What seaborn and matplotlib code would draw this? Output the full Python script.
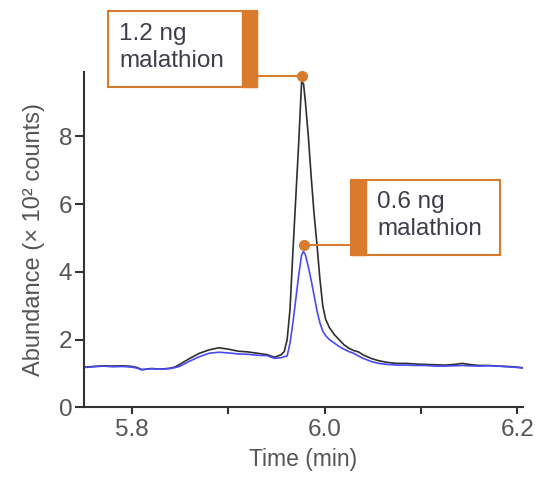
import numpy as np
import pandas as pd
import matplotlib
matplotlib.use("Agg")
import matplotlib.pyplot as plt
import seaborn as sns
from matplotlib.patches import Rectangle

# ---------------- data ----------------
time_min = [5.75, 5.76, 5.77, 5.78, 5.79, 5.80, 5.805, 5.81, 5.815, 5.82, 5.83, 5.84,
            5.845, 5.85, 5.86, 5.87, 5.88, 5.89, 5.90, 5.91, 5.92, 5.93, 5.94, 5.948,
            5.955, 5.958, 5.961, 5.964, 5.967, 5.970, 5.973, 5.976, 5.978, 5.980, 5.983,
            5.986, 5.989, 5.992, 5.995, 5.998, 6.001, 6.005, 6.010, 6.015, 6.020, 6.025,
            6.030, 6.035, 6.040, 6.048, 6.056, 6.065, 6.075, 6.085, 6.095, 6.105, 6.115,
            6.125, 6.135, 6.143, 6.150, 6.160, 6.170, 6.180, 6.190, 6.200, 6.207]

abund_12ng = [1.19, 1.21, 1.23, 1.22, 1.23, 1.21, 1.18, 1.12, 1.13, 1.15, 1.13, 1.16,
              1.20, 1.28, 1.45, 1.60, 1.70, 1.76, 1.72, 1.66, 1.64, 1.60, 1.56, 1.48,
              1.56, 1.65, 2.00, 2.90, 4.60, 6.20, 7.80, 9.60, 9.55, 9.00, 8.00,
              6.80, 5.70, 4.80, 3.80, 3.00, 2.60, 2.35, 2.15, 2.00, 1.85, 1.75,
              1.68, 1.64, 1.55, 1.45, 1.38, 1.33, 1.30, 1.30, 1.28, 1.27, 1.26,
              1.25, 1.27, 1.30, 1.27, 1.24, 1.24, 1.22, 1.21, 1.19, 1.17]

abund_06ng = [1.18, 1.20, 1.22, 1.20, 1.21, 1.19, 1.16, 1.11, 1.13, 1.14, 1.13, 1.15,
              1.18, 1.22, 1.37, 1.50, 1.60, 1.63, 1.61, 1.58, 1.57, 1.54, 1.53, 1.45,
              1.47, 1.50, 1.52, 1.90, 2.50, 3.20, 3.90, 4.50, 4.60, 4.50, 4.15,
              3.75, 3.30, 2.85, 2.50, 2.25, 2.12, 2.00, 1.90, 1.80, 1.72, 1.65,
              1.60, 1.52, 1.45, 1.36, 1.30, 1.27, 1.25, 1.25, 1.24, 1.24, 1.22,
              1.22, 1.23, 1.24, 1.23, 1.22, 1.23, 1.22, 1.20, 1.18, 1.16]

series_labels = ["1.2 ng\nmalathion", "0.6 ng\nmalathion"]
x_ticks = [5.8, 5.9, 6.0, 6.1, 6.2]
x_ticklabels = ["5.8", "", "6.0", "", "6.2"]
y_ticks = [0, 2, 4, 6, 8]

df = pd.DataFrame({
    "time": time_min * 2,
    "abund": abund_12ng + abund_06ng,
    "series": ["1.2"] * len(time_min) + ["0.6"] * len(time_min),
})

# ---------------- style ----------------
sns.set_style("ticks")
plt.rcParams["font.family"] = ["Liberation Sans", "DejaVu Sans"]

ORANGE = "#d97b2c"
TXT = "#3d3d4d"
AX = "#333333"
LBL = "#555555"

fig = plt.figure(figsize=(5.37, 4.79), dpi=100)
ax = fig.add_axes([0.1564, 0.1493, 0.8176, 0.7007])

sns.lineplot(data=df, x="time", y="abund", hue="series",
             palette={"1.2": "#2e2e2e", "0.6": "#4a4af2"},
             hue_order=["1.2", "0.6"], linewidth=1.2, legend=False,
             sort=False, ax=ax, estimator=None)

ax.set_xlim(5.75, 6.206)
ax.set_ylim(0, 9.9)
ax.set_xticks(x_ticks)
ax.set_xticklabels(x_ticklabels)
ax.set_yticks(y_ticks)
for s in ["top", "right"]:
    ax.spines[s].set_visible(False)
for s in ["left", "bottom"]:
    ax.spines[s].set_color(AX)
    ax.spines[s].set_linewidth(1.5)
ax.tick_params(axis="x", length=5, width=1.5, color=AX, labelsize=17.5,
               labelcolor=LBL, pad=3)
ax.tick_params(axis="y", length=6.5, width=1.5, color=AX, labelsize=17.5,
               labelcolor=LBL, pad=2)
ax.set_xlabel("Time (min)", fontsize=16.5, color=LBL, labelpad=5)
ax.set_ylabel("Abundance (× 10² counts)", fontsize=17, color=LBL, labelpad=10)

# ---------------- annotations ----------------
def peak(vals):
    i = int(np.argmax(vals))
    return time_min[i], vals[i]

boxes = [
    # (series values, box x0, x1, y0, y1, bar side)
    (abund_12ng, 5.775, 5.930, 9.46, 11.70, "right"),
    (abund_06ng, 6.027, 6.182, 4.50, 6.71, "left"),
]
bar_w = 0.0155
for (vals, x0, x1, y0, y1, side), label in zip(boxes, series_labels):
    px, py = peak(vals)
    dot_y = py + 0.18
    ax.add_patch(Rectangle((x0, y0), x1 - x0, y1 - y0, facecolor="white",
                           edgecolor=ORANGE, linewidth=1.5, clip_on=False, zorder=5))
    if side == "right":
        bx = x1 - bar_w
        line_x = x1
        tx = x0 + 0.0115
    else:
        bx = x0
        line_x = x0
        tx = x0 + bar_w + 0.012
    ax.add_patch(Rectangle((bx, y0), bar_w, y1 - y0, facecolor=ORANGE,
                           edgecolor=ORANGE, linewidth=1.0, clip_on=False, zorder=6))
    ax.plot([line_x, px], [dot_y, dot_y], color=ORANGE, lw=1.5, clip_on=False, zorder=4)
    ax.plot([px], [dot_y], marker="o", markersize=7, color=ORANGE, clip_on=False, zorder=7)
    ax.text(tx, (y0 + y1) / 2 + 0.05, label, ha="left", va="center", fontsize=17.5,
            color=TXT, linespacing=1.3, zorder=8)

fig.savefig("out.png", dpi=100)
